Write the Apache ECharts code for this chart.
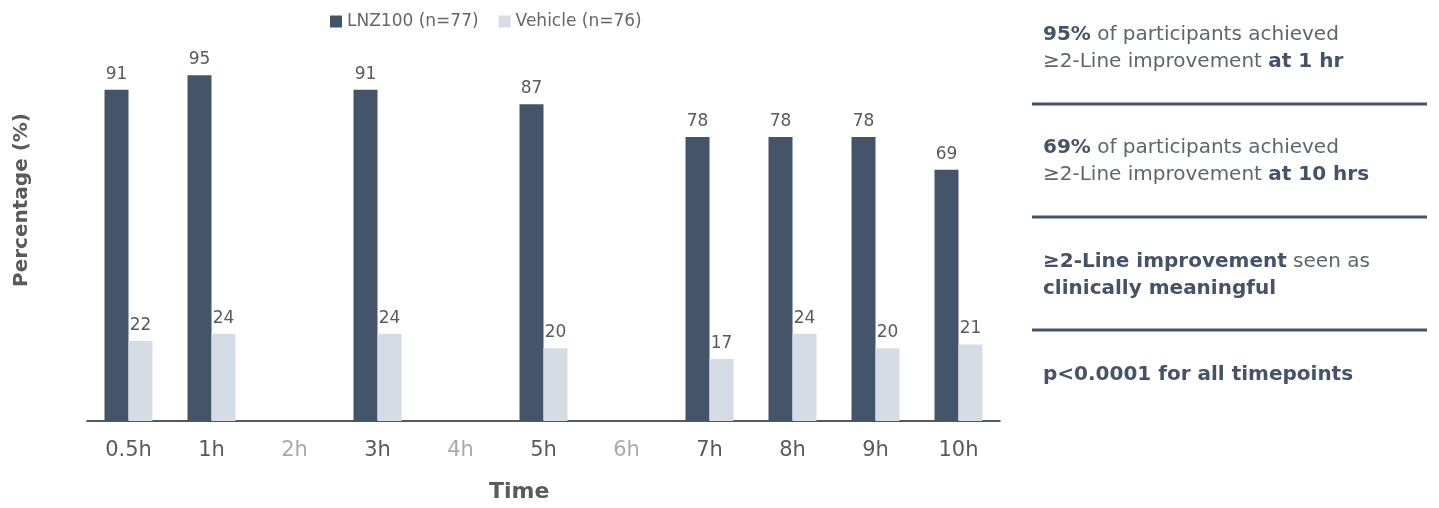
<!DOCTYPE html>
<html>
<head>
<meta charset="utf-8">
<script src="https://cdn.jsdelivr.net/npm/echarts@6/dist/echarts.min.js"></script>
<style>
  html, body { margin: 0; padding: 0; background: #fff; }
  #chart { width: 1439px; height: 508px; }
</style>
</head>
<body>
<div id="chart"></div>
<script>
// time points and results
var timePoints = ['0.5h', '1h', '2h', '3h', '4h', '5h', '6h', '7h', '8h', '9h', '10h'];
var mutedPoints = ['2h', '4h', '6h'];
var lnzValues = [91, 95, null, 91, null, 87, null, 78, 78, 78, 69];
var vehicleValues = [22, 24, null, 24, null, 20, null, 17, 24, 20, 21];
var seriesNames = ['LNZ100 (n=77)', 'Vehicle (n=76)'];

var FONT = 'DejaVu Sans';
var DARK = '#445469';
var LIGHT = '#d6dce6';
var TXT = '#5a5a5a';
var PANEL = '#45536a';

var chart = echarts.init(document.getElementById('chart'));

// side panel text (rich text with bold parts)
function panelText(top, lines) {
    return {
        type: 'text',
        left: 1043,
        top: top,
        style: {
            text: lines,
            font: '20px ' + FONT,
            fill: '#5f6570',
            lineHeight: 27,
            rich: {
                b: { fontWeight: 'bold', fill: PANEL, fontSize: 20, fontFamily: FONT, lineHeight: 27 },
                n: { fill: '#5f6570', fontSize: 20, fontFamily: FONT, lineHeight: 27 }
            }
        }
    };
}

function rule(y) {
    return {
        type: 'rect',
        shape: { x: 1032, y: y - 1.5, width: 395, height: 3 },
        style: { fill: PANEL }
    };
}

var option = {
    color: [DARK, LIGHT],
    textStyle: { fontFamily: FONT },
    legend: {
        data: seriesNames,
        left: 325,
        top: 8,
        icon: 'rect',
        itemWidth: 12,
        itemHeight: 12,
        itemGap: 20,
        textStyle: { color: '#666', fontSize: 17, fontFamily: FONT }
    },
    grid: {
        left: 87,
        right: 439,
        top: 57,
        bottom: 87
    },
    xAxis: {
        type: 'category',
        data: timePoints,
        axisTick: { show: false },
        axisLine: { lineStyle: { color: '#222', width: 1.5 } },
        axisLabel: {
            fontSize: 21,
            margin: 19,
            fontFamily: FONT,
            color: function (v) {
                return mutedPoints.indexOf(v) >= 0 ? '#aaa' : TXT;
            }
        }
    },
    yAxis: {
        type: 'value',
        min: 0,
        max: 100,
        show: false
    },
    series: [
        {
            name: seriesNames[0],
            type: 'bar',
            data: lnzValues,
            barWidth: 24,
            barGap: '0%',
            label: { show: true, position: 'top', distance: 7, color: TXT, fontSize: 17, fontFamily: FONT }
        },
        {
            name: seriesNames[1],
            type: 'bar',
            data: vehicleValues,
            barWidth: 24,
            label: { show: true, position: 'top', distance: 7, color: TXT, fontSize: 17, fontFamily: FONT }
        }
    ],
    graphic: [
        {
            type: 'text',
            left: 489,
            top: 481,
            style: { text: 'Time', font: 'bold 22px ' + FONT, fill: TXT }
        },
        {
            type: 'text',
            x: 22,
            y: 200,
            rotation: Math.PI / 2,
            style: {
                text: 'Percentage (%)',
                font: 'bold 20px ' + FONT,
                fill: TXT,
                align: 'center',
                verticalAlign: 'middle'
            }
        },
        panelText(21, '{b|95%}{n| of participants achieved}\n{n|≥2-Line improvement }{b|at 1 hr}'),
        rule(104),
        panelText(134, '{b|69%}{n| of participants achieved}\n{n|≥2-Line improvement }{b|at 10 hrs}'),
        rule(217),
        panelText(248, '{b|≥2-Line improvement}{n| seen as}\n{b|clinically meaningful}'),
        rule(330),
        panelText(361, '{b|p<0.0001 for all timepoints}')
    ]
};

chart.setOption(option);
</script>
</body>
</html>
